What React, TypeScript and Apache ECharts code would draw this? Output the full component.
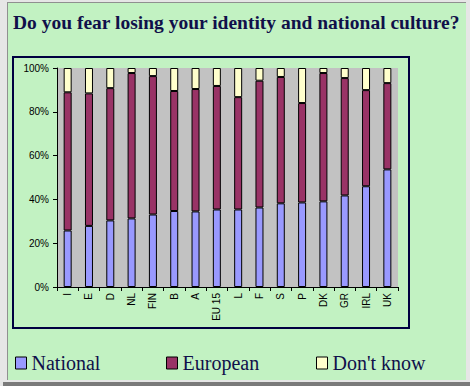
import React, { useEffect, useRef } from "react";
import * as echarts from "echarts";

const categories = ["I", "E", "D", "NL", "FIN", "B", "A", "EU 15", "L", "F", "S", "P", "DK", "GR", "IRL", "UK"];
const national = [25.8, 27.9, 30.4, 31.3, 33.1, 34.7, 34.5, 35.4, 35.4, 36.3, 38.2, 38.6, 39.1, 41.8, 46.0, 53.7];
const european = [63.1, 60.5, 60.4, 66.4, 63.2, 54.8, 55.9, 56.4, 51.3, 57.9, 57.7, 45.4, 58.6, 53.6, 43.9, 39.4];
const dontKnow = [11.1, 11.6, 9.2, 2.3, 3.7, 10.5, 9.6, 8.2, 13.3, 5.8, 4.1, 16.0, 2.3, 4.6, 10.1, 6.9];
const seriesNames = ["National", "European", "Don't know"];
const colors = ["#9999ff", "#993366", "#ffffcc"];
const titleText = "Do you fear losing your identity and national culture?";

const NAVY = "#10104a";
const SERIF = "Liberation Serif";
const SANS = "Liberation Sans";

export default function App() {
  const ref = useRef<HTMLDivElement>(null);
  useEffect(() => {
    if (!ref.current) return;
    const chart = echarts.init(ref.current, null, { renderer: "svg" });
    const legendPos = [15, 166, 316];
    chart.setOption({
      animation: false,
      textStyle: { fontFamily: SERIF },
      title: {
        text: titleText,
        left: 13,
        top: 11,
        padding: 0,
        textStyle: { fontFamily: SERIF, fontWeight: "bold", fontSize: 19.5, color: NAVY, lineHeight: 22 },
      },
      legend: seriesNames.map((n, i) => ({
        data: [{ name: n, textStyle: { fontFamily: SERIF, fontSize: 20, color: NAVY } }],
        left: legendPos[i],
        top: 353,
        padding: 0,
        icon: "rect",
        itemWidth: 11,
        itemHeight: 12,
        itemStyle: { borderColor: "#000", borderWidth: 1 },
        textStyle: { fontFamily: SERIF, fontSize: 20, color: NAVY, lineHeight: 20 },
        selectedMode: false,
      })),
      grid: {
        left: 57,
        right: 72,
        top: 68,
        bottom: 99,
        show: true,
        backgroundColor: "#c2c2c2",
        borderWidth: 0,
      },
      xAxis: {
        type: "category",
        data: categories,
        axisLine: { lineStyle: { color: "#000", width: 1 } },
        axisTick: { show: true, length: 4, lineStyle: { color: "#000" } },
        axisLabel: { interval: 0, rotate: 90, fontSize: 10, fontFamily: SANS, color: "#000", margin: 6 },
      },
      yAxis: {
        type: "value",
        min: 0,
        max: 100,
        interval: 20,
        splitLine: { show: false },
        axisLine: { show: true, lineStyle: { color: "#000", width: 1 } },
        axisTick: { show: true, length: 4, lineStyle: { color: "#000" } },
        axisLabel: { formatter: "{value}%", fontSize: 10, fontFamily: SANS, color: "#000", margin: 8 },
      },
      series: [national, european, dontKnow].map((d, i) => ({
        name: seriesNames[i],
        type: "bar",
        stack: "total",
        data: d,
        barWidth: 8,
        itemStyle: { color: colors[i], borderColor: "#000", borderWidth: 1 },
      })),
      graphic: [
        {
          type: "rect",
          shape: { x: 13, y: 57, width: 396, height: 271 },
          style: { fill: "none", stroke: "#000040", lineWidth: 2 },
        },
      ],
    });
    return () => chart.dispose();
  }, []);

  return (
    <div style={{ position: "fixed", left: 0, top: 0, width: 470, height: 386, background: "#e6e6e6", overflow: "hidden" }}>
      <div style={{ position: "absolute", left: 3, top: 382, width: 467, height: 4, background: "#7a7a7a" }} />
      <div
        style={{
          position: "absolute",
          left: 7,
          top: 2,
          width: 459,
          height: 378,
          background: "#c2f2c2",
          borderTop: "1px solid #909090",
          borderLeft: "1px solid #909090",
          boxSizing: "border-box",
        }}
      />
      <div ref={ref} style={{ position: "absolute", left: 0, top: 0, width: 470, height: 386 }} />
    </div>
  );
}
